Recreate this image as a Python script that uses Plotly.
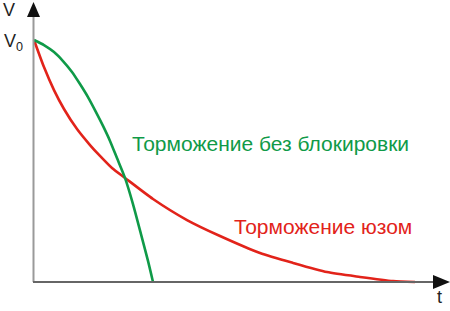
import plotly.graph_objects as go

# Data (V relative to V0 = 1, t in arbitrary units)
t_skid = [0, 0.262, 0.525, 0.787, 1.129, 1.470, 1.732, 2.047, 2.388, 3.123, 4.016, 4.882,
          5.932, 6.798, 7.690, 8.556, 9.423, 10.0]
v_skid = [1.0, 0.888, 0.793, 0.715, 0.632, 0.566, 0.521, 0.471, 0.430, 0.343, 0.256, 0.190,
          0.120, 0.079, 0.041, 0.021, 0.004, 0.0]

t_abs = [0, 0.262, 0.525, 0.761, 0.997, 1.207, 1.417, 1.627, 1.811, 1.995, 2.178, 2.388,
         2.598, 2.808, 2.992, 3.123]
v_abs = [1.0, 0.979, 0.950, 0.913, 0.868, 0.818, 0.764, 0.702, 0.645, 0.583, 0.512, 0.430,
         0.322, 0.198, 0.087, 0.0]

label_abs = "Торможение без блокировки"
label_skid = "Торможение юзом"

W, H = 450, 311
GREEN = "#0f9a48"
RED = "#e2231a"

# pixel mapping for layout
x0_px, x1_px = 34, 415   # t = 0 .. 10
y0_px, y1_px = 282, 40   # V = 0 .. 1
sx = (x1_px - x0_px) / 10.0
sy = (y0_px - y1_px) / 1.0
xr = [-x0_px / sx, (W - x0_px) / sx]
yr = [-(H - y0_px) / sy, y0_px / sy]

def px(x):
    return x / W

def py(y):
    return 1 - y / H

fig = go.Figure()
fig.add_trace(go.Scatter(x=t_skid, y=v_skid, mode="lines",
                         line=dict(color=RED, width=2.6, shape="spline", smoothing=0.6),
                         hoverinfo="skip"))
fig.add_trace(go.Scatter(x=t_abs, y=v_abs, mode="lines",
                         line=dict(color=GREEN, width=2.6, shape="spline", smoothing=0.6),
                         hoverinfo="skip"))

shapes = [
    # y axis
    dict(type="line", xref="paper", yref="paper", x0=px(33.5), x1=px(33.5), y0=py(282), y1=py(14),
         line=dict(color="#9a9a9a", width=2)),
    dict(type="path", xref="paper", yref="paper",
         path=f"M {px(33.5)},{py(2)} L {px(27)},{py(17)} L {px(40)},{py(17)} Z",
         fillcolor="#111111", line=dict(width=0)),
    # x axis
    dict(type="line", xref="paper", yref="paper", x0=px(33), x1=px(436), y0=py(282), y1=py(282),
         line=dict(color="#666666", width=2)),
    dict(type="path", xref="paper", yref="paper",
         path=f"M {px(450)},{py(282)} L {px(433)},{py(275)} L {px(433)},{py(289)} Z",
         fillcolor="#111111", line=dict(width=0)),
]

font = "Liberation Sans, Arial, sans-serif"
annotations = [
    dict(text="V", x=px(9), y=py(10), xref="paper", yref="paper", showarrow=False,
         font=dict(family=font, size=18, color="#222222"), xanchor="center", yanchor="middle"),
    dict(text="V<sub>0</sub>", x=px(2), y=py(43), xref="paper", yref="paper", showarrow=False,
         font=dict(family=font, size=18, color="#222222"), xanchor="left", yanchor="middle"),
    dict(text="t", x=px(439), y=py(297), xref="paper", yref="paper", showarrow=False,
         font=dict(family=font, size=18, color="#222222"), xanchor="center", yanchor="middle"),
    dict(text=label_abs, x=px(270), y=py(143), xref="paper", yref="paper", showarrow=False,
         font=dict(family=font, size=21, color=GREEN), xanchor="center", yanchor="middle"),
    dict(text=label_skid, x=px(322.5), y=py(226), xref="paper", yref="paper", showarrow=False,
         font=dict(family=font, size=21, color=RED), xanchor="center", yanchor="middle"),
]

fig.update_layout(
    width=W, height=H,
    margin=dict(l=0, r=0, t=0, b=0),
    paper_bgcolor="white", plot_bgcolor="white",
    showlegend=False,
    xaxis=dict(range=xr, visible=False, fixedrange=True),
    yaxis=dict(range=yr, visible=False, fixedrange=True),
    shapes=shapes,
    annotations=annotations,
)

fig.write_html("out.html", config={"displayModeBar": False})
